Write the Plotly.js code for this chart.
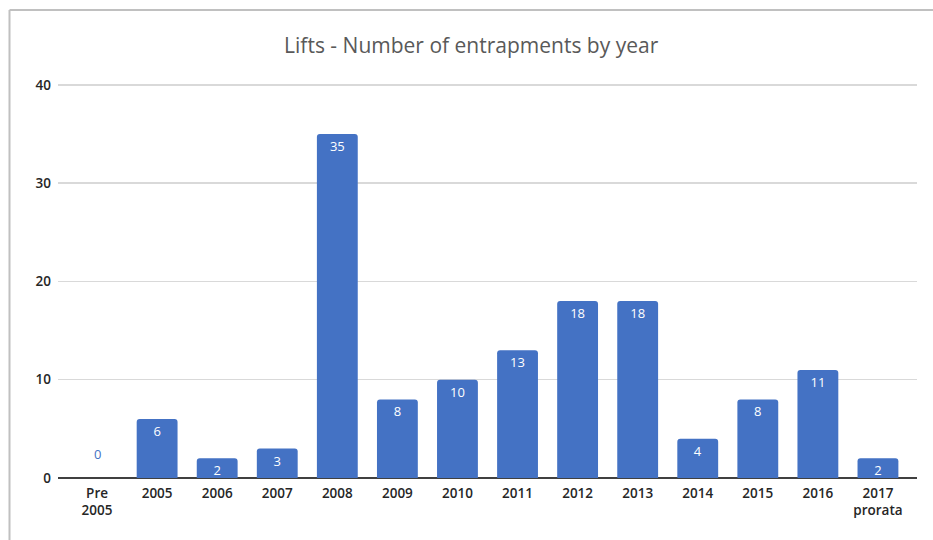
<!DOCTYPE html>
<html>
<head>
<meta charset="utf-8">
<script src="https://cdn.plot.ly/plotly-3.0.1.min.js"></script>
<style>html,body{margin:0;padding:0;background:#fff;}#chart{width:933px;height:540px;}</style>
</head>
<body>
<div id="chart"></div>
<script>
const categories = ["Pre<br>2005","2005","2006","2007","2008","2009","2010","2011","2012","2013","2014","2015","2016","2017<br>prorata"];
const entrapments = [0,6,2,3,35,8,10,13,18,18,4,8,11,2];
const yTicks = [0,10,20,30,40];
const chartTitle = "Lifts - Number of entrapments by year";

const barColor = "#4472C4";
const labelFont = "Open Sans, sans-serif";

const textPos = entrapments.map(v => v > 0 ? "inside" : "none");
const texts = entrapments.map(v => String(v));

const trace = {
  type: "bar",
  x: categories,
  y: entrapments,
  marker: {color: barColor, cornerradius: 3},
  text: texts,
  textposition: textPos,
  insidetextanchor: "end",
  textangle: 0,
  insidetextfont: {color: "#ffffff", size: 13, family: labelFont},
  constraintext: "none",
  hoverinfo: "none",
  cliponaxis: false
};

const zeroAnn = entrapments.map((v, i) => ({v, i})).filter(o => o.v === 0).map(o => ({
  x: categories[o.i], y: o.v, xref: "x", yref: "y",
  text: String(o.v), showarrow: false, yshift: 24,
  font: {color: barColor, size: 13, family: labelFont}
}));

const PT = 81, PB = 478, PL = 58, PR = 917;
const layout = {
  width: 933, height: 540,
  margin: {l: PL, r: 933 - PR, t: PT, b: 540 - PB},
  paper_bgcolor: "#ffffff",
  plot_bgcolor: "#ffffff",
  bargap: 0.32,
  showlegend: false,
  title: {
    text: chartTitle,
    x: 0.505, xanchor: "center",
    y: 1 - 46/540, yanchor: "middle",
    font: {family: labelFont, size: 21, color: "#595959"}
  },
  xaxis: {
    type: "category",
    range: [-0.65, categories.length - 1 + 0.65],
    showgrid: false,
    zeroline: false,
    showline: false,
    ticks: "",
    ticklabelstandoff: 5,
    tickfont: {family: labelFont, size: 13.5, color: "#262626", weight: 600},
    fixedrange: true
  },
  yaxis: {
    range: [0, 40.4],
    tickvals: yTicks,
    ticktext: yTicks.map(String),
    showgrid: true,
    gridcolor: "#d9d9d9",
    gridwidth: 1.5,
    zeroline: true,
    zerolinecolor: "#404040",
    zerolinewidth: 1.5,
    showline: false,
    ticks: "",
    ticklabelstandoff: 6,
    tickfont: {family: labelFont, size: 13.5, color: "#262626", weight: 600},
    fixedrange: true
  },
  annotations: zeroAnn,
  shapes: [
    {type: "line", xref: "paper", yref: "paper",
     x0: (9.5-PL)/(PR-PL), x1: (9.5-PL)/(PR-PL), y0: (PB-10)/(PB-PT), y1: (PB-545)/(PB-PT),
     line: {color: "#c0c0c0", width: 2}},
    {type: "line", xref: "paper", yref: "paper",
     x0: (9.5-PL)/(PR-PL), x1: (940-PL)/(PR-PL), y0: (PB-10)/(PB-PT), y1: (PB-10)/(PB-PT),
     line: {color: "#c0c0c0", width: 2}}
  ]
};

Plotly.newPlot("chart", [trace], layout, {staticPlot: true, displayModeBar: false});
</script>
</body>
</html>
